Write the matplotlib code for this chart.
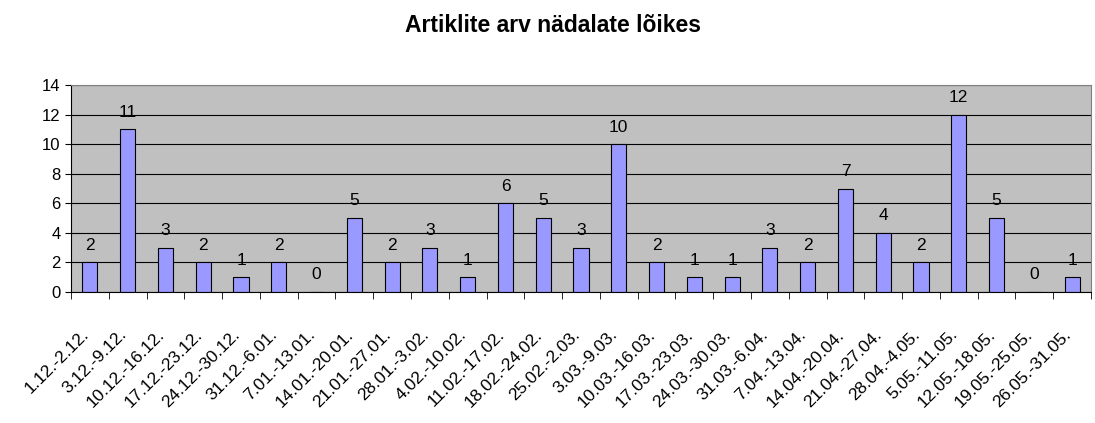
import numpy as np
from matplotlib import pyplot as plt
from matplotlib.transforms import ScaledTranslation

weeks = ['1.12.-2.12.', '3.12.-9.12.', '10.12.-16.12.', '17.12.-23.12.', '24.12.-30.12.',
         '31.12.-6.01.', '7.01.-13.01.', '14.01.-20.01.', '21.01.-27.01.', '28.01.-3.02.',
         '4.02.-10.02.', '11.02.-17.02.', '18.02.-24.02.', '25.02.-2.03.', '3.03.-9.03.',
         '10.03.-16.03.', '17.03.-23.03.', '24.03.-30.03.', '31.03.-6.04.', '7.04.-13.04.',
         '14.04.-20.04.', '21.04.-27.04.', '28.04.-4.05.', '5.05.-11.05.', '12.05.-18.05.',
         '19.05.-25.05.', '26.05.-31.05.']
counts = [2, 11, 3, 2, 1, 2, 0, 5, 2, 3, 1, 6, 5, 3, 10, 2, 1, 1, 3, 2, 7, 4, 2, 12, 5, 0, 1]
yticks = [0, 2, 4, 6, 8, 10, 12, 14]

plt.rcParams['font.family'] = ['Liberation Sans', 'DejaVu Sans']

fig = plt.figure(figsize=(10.95, 4.23), dpi=100)
ax = fig.add_axes([71 / 1095, 1 - 292 / 423, 1020 / 1095, 207 / 423])

x = np.arange(len(counts))
ax.set_facecolor('#C0C0C0')
ax.set_axisbelow(True)
ax.yaxis.grid(True, color='black', linewidth=0.8)
ax.bar(x, counts, width=0.4, color='#9999FF', edgecolor='black', linewidth=0.8)
for xi, v in zip(x, counts):
    ax.text(xi, v + 0.65, str(v), ha='center', va='bottom', fontsize=12.5)

ax.set_xlim(-0.5, len(counts) - 0.5)
ax.set_ylim(0, 14)
ax.set_yticks(yticks)
ax.tick_params(axis='y', labelsize=12, length=4, direction='out')
ax.set_xticks(x)
ax.set_xticklabels(weeks, rotation=45, ha='right', rotation_mode='anchor', fontsize=12.5)
ax.tick_params(axis='x', length=0, pad=25)
shift = ScaledTranslation(-0.09, 0, fig.dpi_scale_trans)
for lbl in ax.get_xticklabels():
    lbl.set_transform(lbl.get_transform() + shift)
ax.set_xticks(np.arange(-0.5, len(counts), 1), minor=True)
ax.tick_params(axis='x', which='minor', length=5, direction='out')

for s in ['top', 'right']:
    ax.spines[s].set_color('#808080')
for s in ['left', 'bottom']:
    ax.spines[s].set_color('black')

fig.text(553 / 1095, 1 - 26 / 423, 'Artiklite arv nädalate lõikes', ha='center', va='center',
         fontsize=16.5, fontweight='bold')

plt.savefig('out.png', dpi=100)
